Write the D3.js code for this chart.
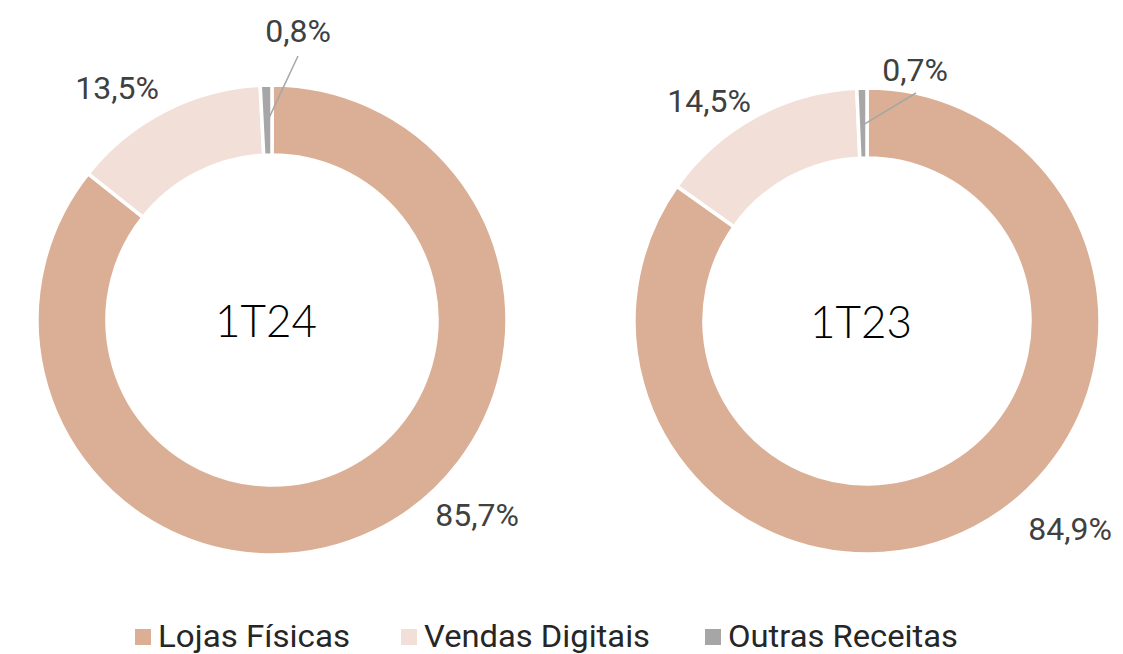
<!DOCTYPE html>
<html>
<head>
<meta charset="utf-8">
<script src="https://cdn.jsdelivr.net/npm/d3@7"></script>
<style>
  body { margin: 0; background: #fff; }
  svg { display: block; }
</style>
</head>
<body>
<svg id="chart" width="1123" height="654"></svg>
<script>
// Data
var categories = ['Lojas Físicas', 'Vendas Digitais', 'Outras Receitas'];
var periods = ['1T24', '1T23'];
var values1T24 = [85.7, 13.5, 0.8];
var values1T23 = [84.9, 14.5, 0.7];
var colors = ['#dbaf95', '#f2e0d8', '#a6a6a6'];

var svg = d3.select('#chart');

// layout for each donut
var donuts = [
    { name: periods[0], values: values1T24, cx: 272, cy: 320, r: 235, ir: 165,
      // label anchors relative to center (text center, baseline)
      labels: [[205, 206], [-155, -221], [26, -278]], leaderEnd: [26, -264] },
    { name: periods[1], values: values1T23, cx: 867, cy: 321, r: 233, ir: 163,
      labels: [[203, 219], [-158, -209], [48, -240]], leaderEnd: [49, -228] }
];

var fmt = function(v) { return d3.format('.1f')(v).replace('.', ',') + '%'; };

var pie = d3.pie().sort(null).value(function(d) { return d; });

donuts.forEach(function(dn) {
    var g = svg.append('g').attr('transform', 'translate(' + dn.cx + ',' + dn.cy + ')');
    var arc = d3.arc().innerRadius(dn.ir).outerRadius(dn.r);
    var arcs = pie(dn.values);

    g.selectAll('path.slice')
        .data(arcs)
        .enter()
        .append('path')
        .attr('class', 'slice')
        .attr('d', arc)
        .attr('fill', function(d, i) { return colors[i]; })
        .attr('stroke', '#fff')
        .attr('stroke-width', 3.5);

    // leader line for the small slice
    var small = arcs[2];
    var mid = (small.startAngle + small.endAngle) / 2;
    var rr = (dn.r + dn.ir) / 2 - 2;
    g.append('line')
        .attr('x1', Math.sin(mid) * rr)
        .attr('y1', -Math.cos(mid) * rr)
        .attr('x2', dn.leaderEnd[0])
        .attr('y2', dn.leaderEnd[1])
        .attr('stroke', '#a6a6a6')
        .attr('stroke-width', 1.5);

    g.selectAll('text.val')
        .data(arcs)
        .enter()
        .append('text')
        .attr('class', 'val')
        .attr('x', function(d, i) { return dn.labels[i][0]; })
        .attr('y', function(d, i) { return dn.labels[i][1]; })
        .attr('text-anchor', 'middle')
        .style('font-family', 'Roboto, sans-serif')
        .style('font-size', '32px')
        .style('fill', '#404040')
        .text(function(d) { return fmt(d.data); });

    g.append('text')
        .attr('x', -57)
        .attr('y', 17)
        .attr('textLength', 102)
        .attr('lengthAdjust', 'spacingAndGlyphs')
        .style('font-family', 'Lato, sans-serif')
        .style('font-weight', 300)
        .style('font-size', '46px')
        .style('fill', '#000')
        .text(dn.name);
});

// Legend
var legendX = [135, 401, 705];
var legendW = [192, 226, 230];
var leg = svg.append('g').attr('transform', 'translate(0,' + 647 + ')');
categories.forEach(function(c, i) {
    leg.append('rect')
        .attr('x', legendX[i])
        .attr('y', -18)
        .attr('width', 16)
        .attr('height', 16)
        .attr('fill', colors[i]);
    leg.append('text')
        .attr('x', legendX[i] + 23)
        .attr('y', 0)
        .attr('textLength', legendW[i])
        .attr('lengthAdjust', 'spacingAndGlyphs')
        .style('font-family', 'Roboto, sans-serif')
        .style('font-size', '31px')
        .style('fill', '#262626')
        .text(c);
});
</script>
</body>
</html>
